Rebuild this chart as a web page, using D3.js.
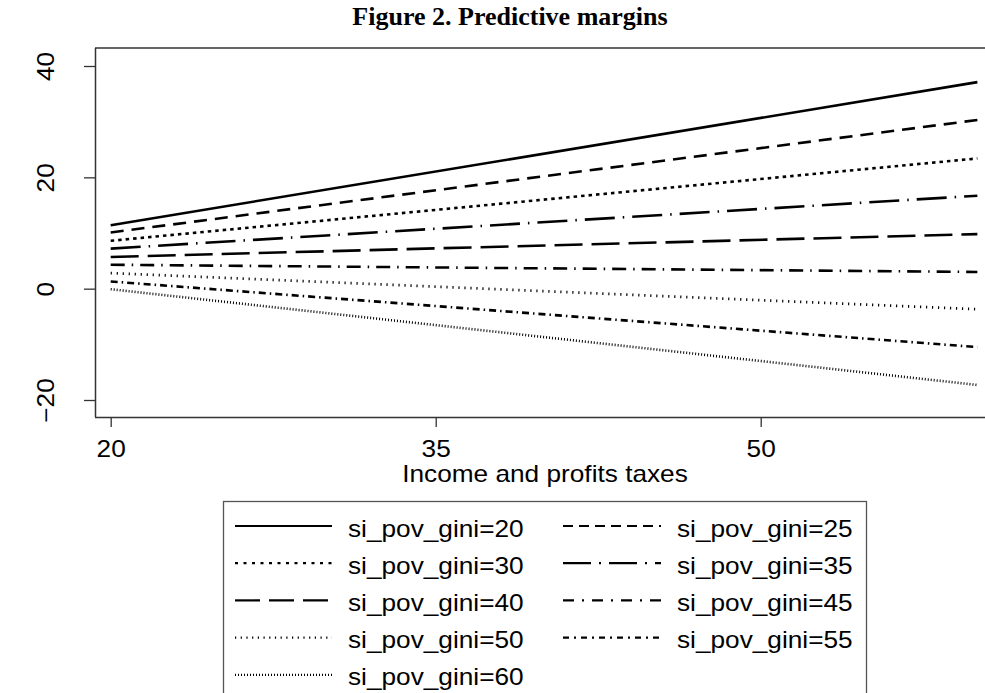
<!DOCTYPE html>
<html>
<head>
<meta charset="utf-8">
<script src="https://cdn.jsdelivr.net/npm/d3@7"></script>
<style>
  html, body { margin: 0; padding: 0; background: #fff; }
  svg { display: block; }
</style>
</head>
<body>
<script>
// ---- data ----
const giniLevels = [20, 25, 30, 35, 40, 45, 50, 55, 60];
const taxPoints = [20, 60];
const marginsAt20 = [11.4, 10.1, 8.6, 7.2, 5.7, 4.3, 2.8, 1.3, -0.1];
const marginsAt60 = [37.1, 30.3, 23.4, 16.7, 9.8, 3.0, -3.7, -10.5, -17.3];
const xTicks = [20, 35, 50];
const yTicks = [-20, 0, 20, 40];
const titleText = "Figure 2. Predictive margins";
const xTitle = "Income and profits taxes";
const seriesPrefix = "si_pov_gini=";

// styles (Stata-like line patterns)
const dashes = ["none", "13,8", "3.5,4", "30,8,1.5,8", "28,9", "14,7,1.5,7", "1.2,4.8", "7,4,1.5,4", "1,2"];
const legendDashes = ["none", "10,6", "3,5.5", "28,8,2,8", "25,9", "11,8,2,8", "1.2,4.5", "6,5,2,5", "1,2"];

const W = 985, H = 693;
const svg = d3.select("body").append("svg").attr("width", W).attr("height", H);

const x = d3.scaleLinear().domain([20, 50]).range([110.7, 760.7]);
const y = d3.scaleLinear().domain([-20, 40]).range([400, 66]);

const plotLeft = 95, plotTop = 48, plotBottom = 417;
const sansFont = "'Liberation Sans', Arial, sans-serif";
const fs = 23, sx = 1.14;

// title
svg.append("text")
  .attr("x", 510).attr("y", 25)
  .attr("text-anchor", "middle")
  .attr("font-family", "'Liberation Serif', 'Times New Roman', serif")
  .attr("font-weight", "bold")
  .attr("font-size", 26)
  .text(titleText);

// frame: top line
svg.append("line").attr("x1", plotLeft).attr("x2", W + 5).attr("y1", plotTop).attr("y2", plotTop)
  .attr("stroke", "#333").attr("stroke-width", 1.5);

// axes
const xAxis = d3.axisBottom(x).tickValues(xTicks).tickSize(10);
const gx = svg.append("g").attr("transform", `translate(0,${plotBottom})`).call(xAxis);
gx.select(".domain").attr("d", `M${plotLeft},0.5H${W + 5}`).attr("stroke", "#333").attr("stroke-width", 1.5);
gx.selectAll(".tick line").attr("stroke", "#333").attr("stroke-width", 1.3);
gx.selectAll(".tick text").attr("font-family", sansFont).attr("font-size", fs).attr("fill", "#000")
  .attr("dy", null).attr("y", null)
  .attr("transform", `translate(0,39.5) scale(${sx},1)`);

const yAxis = d3.axisLeft(y).tickValues(yTicks).tickSize(11);
const gy = svg.append("g").attr("transform", `translate(${plotLeft},0)`).call(yAxis);
gy.select(".domain").attr("d", `M0.5,${plotTop}V${plotBottom}`).attr("stroke", "#333").attr("stroke-width", 1.5);
gy.selectAll(".tick line").attr("stroke", "#333").attr("stroke-width", 1.3);
gy.selectAll(".tick text")
  .attr("font-family", sansFont).attr("font-size", fs).attr("fill", "#000")
  .attr("x", null).attr("dy", null)
  .attr("text-anchor", "middle")
  .attr("transform", `translate(-41,0) rotate(-90) scale(${sx},1)`);

// x title
svg.append("text")
  .attr("transform", `translate(545,481.5) scale(${sx},1)`)
  .attr("text-anchor", "middle")
  .attr("font-family", sansFont)
  .attr("font-size", fs)
  .text(xTitle);

// lines
const lineGen = d3.line().x(d => x(d[0])).y(d => y(d[1]));
const series = giniLevels.map((g, i) => ({
  name: seriesPrefix + g,
  pts: [[taxPoints[0], marginsAt20[i]], [taxPoints[1], marginsAt60[i]]],
  dash: dashes[i],
  ldash: legendDashes[i]
}));

svg.append("g").selectAll("path").data(series).join("path")
  .attr("d", d => lineGen(d.pts))
  .attr("fill", "none")
  .attr("stroke", "#000")
  .attr("stroke-width", 2.6)
  .attr("stroke-dasharray", d => d.dash);

// legend
const lg = svg.append("g");
lg.append("rect").attr("x", 223.5).attr("y", 501.5).attr("width", 643).attr("height", 220)
  .attr("fill", "#fff").attr("stroke", "#555").attr("stroke-width", 1.3);

const colX = [[235, 332, 348], [563, 661, 677]];
const rowY0 = 526, rowStep = 37.2;
series.forEach((s, i) => {
  const col = i % 2, row = Math.floor(i / 2);
  const ly = rowY0 + row * rowStep;
  const c = colX[col];
  lg.append("line").attr("x1", c[0]).attr("x2", c[1]).attr("y1", ly).attr("y2", ly)
    .attr("stroke", "#000").attr("stroke-width", 2.2)
    .attr("stroke-dasharray", s.ldash);
  lg.append("text").attr("transform", `translate(${c[2]},${ly + 10.5}) scale(${sx},1)`)
    .attr("font-family", sansFont).attr("font-size", fs)
    .text(s.name);
});
</script>
</body>
</html>
